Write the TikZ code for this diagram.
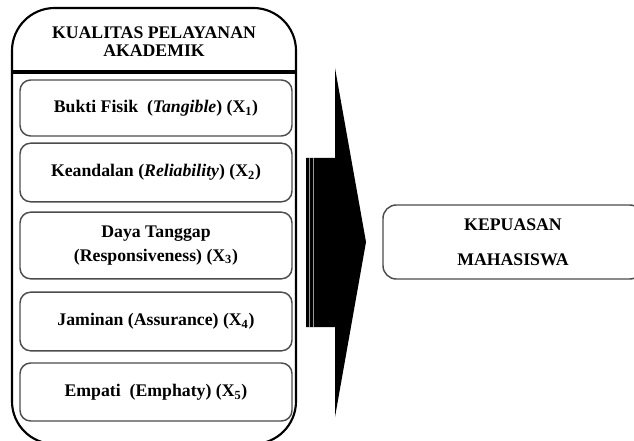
\documentclass[tikz,border=0pt]{standalone}
\usepackage{fontspec}
\setmainfont{Liberation Serif}
\begin{document}
\begin{tikzpicture}[x=0.75pt,y=-0.75pt,
  item/.style={draw=black!70,line width=1.1pt,rounded corners=8pt,minimum width=204pt,align=center,inner sep=0pt,font=\fontsize{13.3pt}{17pt}\selectfont\bfseries},
  lbl/.style={align=center,inner sep=0pt,font=\fontsize{13.3pt}{13.5pt}\selectfont\bfseries}]
\useasboundingbox (0,0) rectangle (634,441);
\clip (0,0) rectangle (634,441);
% outer container
\draw[line width=1.6pt,rounded corners=32pt] (12,8) rectangle (296,444);
\draw[line width=2.4pt] (12,72) -- (296,72);
\node[lbl] (head) at (154,42) {KUALITAS PELAYANAN\\AKADEMIK};
% items
\node[item,minimum height=42pt] (b1) at (156,108) {Bukti Fisik~ (\textit{Tangible}) (X\textsubscript{1})};
\node[item,minimum height=44pt] (b2) at (156,172.5) {Keandalan (\textit{Reliability}) (X\textsubscript{2})};
\node[item,minimum height=50pt,font=\fontsize{13.3pt}{17.5pt}\selectfont\bfseries] (b3) at (156,245.5) {Daya Tanggap\\(Responsiveness) (X\textsubscript{3})};
\node[item,minimum height=44pt] (b4) at (156,321.5) {Jaminan (Assurance) (X\textsubscript{4})};
\node[item,minimum height=43.5pt] (b5) at (156,392) {Empati~ (Emphaty) (X\textsubscript{5})};
% big arrow
\fill[black] (306,158) -- (335,158) -- (335,68) -- (366,242) -- (335,417) -- (335,327) -- (306,327) -- cycle;
\draw[white!60!black,line width=0.5pt] (309.5,158) -- (309.5,327);
\draw[white!60!black,line width=0.5pt] (313.5,158) -- (313.5,327);
% result
\node[draw=black!70,line width=1.1pt,rounded corners=10pt,minimum width=195pt,minimum height=55.5pt,inner sep=0pt,align=center,font=\fontsize{13.3pt}{26pt}\selectfont\bfseries] (res) at (513,242) {KEPUASAN\\MAHASISWA};
\end{tikzpicture}
\end{document}
